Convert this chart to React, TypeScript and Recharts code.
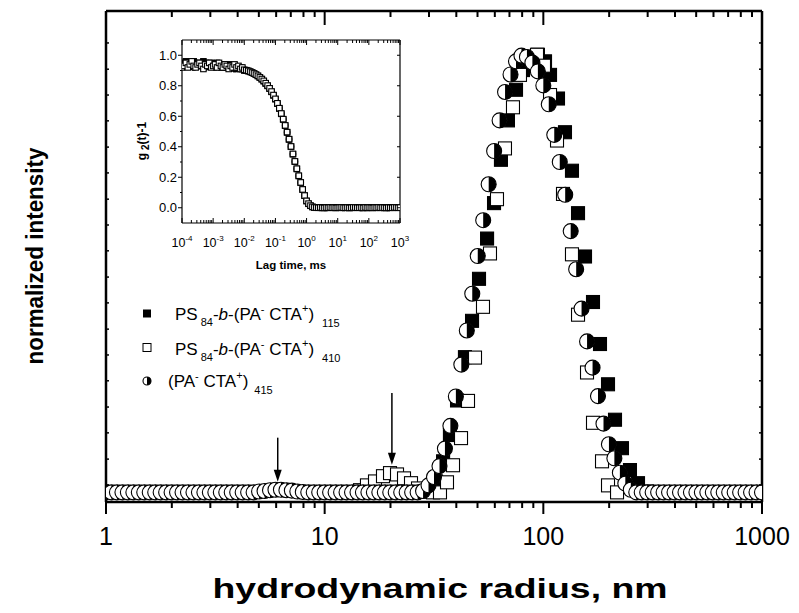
import React from "react";
import { ScatterChart, Scatter, XAxis, YAxis, ReferenceLine } from "recharts";

const FONT = "'Liberation Sans', Arial, Helvetica, sans-serif";

// ---------- main panel: size distributions ----------
// radius bins (nm) of the (PA- CTA+)415 distribution
const radiusGrid = [
  1, 1.059, 1.122, 1.189, 1.259, 1.334, 1.413, 1.496, 1.585, 1.679, 1.778, 1.884, 1.995, 2.113, 2.239, 2.371, 2.512, 2.661, 2.818, 2.985,
  3.162, 3.35, 3.548, 3.758, 3.981, 4.217, 4.467, 4.732, 5.012, 5.309, 5.623, 5.957, 6.31, 6.683, 7.079, 7.499, 7.943, 8.414, 8.913, 9.441,
  10, 10.59, 11.22, 11.89, 12.59, 13.34, 14.13, 14.96, 15.85, 16.79, 17.78, 18.84, 19.95, 21.13, 22.39, 23.71, 25.12, 26.61, 28.18, 29.85,
  31.62, 33.5, 35.48, 37.58, 39.81, 42.17, 44.67, 47.32, 50.12, 53.09, 56.23, 59.57, 63.1, 66.83, 70.79, 74.99, 79.43, 84.14, 89.13, 94.41,
  100, 105.9, 112.2, 118.9, 125.9, 133.4, 141.3, 149.6, 158.5, 167.9, 177.8, 188.4, 199.5, 211.3, 223.9, 237.1, 251.2, 266.1, 281.8, 298.5,
  316.2, 335, 354.8, 375.8, 398.1, 421.7, 446.7, 473.2, 501.2, 530.9, 562.3, 595.7, 631, 668.3, 707.9, 749.9, 794.3, 841.4, 891.3, 944.1,
  1000,
];
const halfIntensity = [
  0, 0, 0, 0, 0, 0, 0, 0, 0, 0, 0, 0, 0, 0, 0, 0, 0, 0, 0, 0,
  0, 0, 0, 0, 0, 0, 0, 0, 0.002, 0.003, 0.005, 0.006, 0.006, 0.005, 0.004, 0.002, 0.001, 0, 0, 0,
  0, 0, 0, 0, 0, 0, 0, 0, 0, 0, 0, 0, 0, 0, 0, 0, 0, 0, 0.003, 0.016,
  0.035, 0.06, 0.1, 0.152, 0.219, 0.292, 0.37, 0.454, 0.54, 0.622, 0.704, 0.78, 0.85, 0.915, 0.955, 0.985, 0.998, 0.995, 0.982, 0.962,
  0.93, 0.887, 0.817, 0.755, 0.68, 0.597, 0.51, 0.42, 0.345, 0.285, 0.22, 0.157, 0.11, 0.078, 0.045, 0.02, 0.006, 0, 0, 0,
  0, 0, 0, 0, 0, 0, 0, 0, 0, 0, 0, 0, 0, 0, 0, 0, 0, 0, 0, 0,
  0,
];

// PS84-b-(PA- CTA+)115
const filledRadius = [
  30.0, 32.3, 34.8, 37.4, 40.3, 43.8, 47.2, 50.8, 55.3, 59.5, 64.0, 68.9, 75.0, 80.7, 86.9, 94.5,
  101.8, 107.3, 116.7, 125.6, 135.2, 144.1, 155.1, 168.7, 181.6, 197.6, 212.7, 228.9, 249.0, 271.0, 298.0,
];
const filledIntensity = [
  0.002, 0.025, 0.071, 0.131, 0.21, 0.309, 0.392, 0.488, 0.58, 0.661, 0.76, 0.85, 0.92, 0.965, 0.99, 1.0,
  0.985, 0.954, 0.9, 0.823, 0.735, 0.638, 0.539, 0.435, 0.339, 0.247, 0.166, 0.101, 0.051, 0.021, 0.002,
];

// PS84-b-(PA- CTA+)410
const openRadius = [
  14.51, 15.61, 16.99, 18.48, 19.9, 21.42, 23.06, 24.82, 26.72, 28.76, 31.29, 33.68, 36.26, 38.63, 42.03, 45.24, 48.7, 52.97,
  57.02, 61.38, 66.77, 72.64, 78.2, 86.0, 93.55, 100.7, 107.3, 115.5, 123.0, 135.2, 144.1, 158.4, 168.7, 185.5, 197.6, 217.3,
];
const openIntensity = [
  0.005, 0.016, 0.025, 0.037, 0.044, 0.041, 0.032, 0.021, 0.009, 0.002, 0, 0, 0.023, 0.062, 0.124, 0.209, 0.308, 0.424,
  0.546, 0.67, 0.786, 0.88, 0.954, 0.995, 1.0, 0.975, 0.908, 0.804, 0.682, 0.544, 0.406, 0.274, 0.159, 0.071, 0.016, 0,
];

const xTicks = [1, 10, 100, 1000];
const xMinorTicks = [2, 3, 4, 5, 6, 7, 8, 9, 20, 30, 40, 50, 60, 70, 80, 90, 200, 300, 400, 500, 600, 700, 800, 900];
const yTicks = [0.017, 0.076, 0.136, 0.195, 0.255, 0.314, 0.373, 0.433, 0.492, 0.552, 0.611, 0.67, 0.73, 0.789, 0.849, 0.908, 0.967, 1.027];

// arrows marking the small populations
const arrowRadius = [6.1, 20.3];
const arrowFrom = [0.125, 0.227];
const arrowTo = [0.024, 0.063];

// ---------- inset: g2(t)-1 ----------
const lagTimes = [
  1e-4, 1.155e-4, 1.334e-4, 1.54e-4, 1.778e-4, 2.054e-4, 2.371e-4, 2.738e-4, 3.162e-4, 3.652e-4, 4.217e-4, 4.87e-4, 5.623e-4, 6.494e-4, 7.499e-4, 8.66e-4,
  1e-3, 1.155e-3, 1.334e-3, 1.54e-3, 1.778e-3, 2.054e-3, 2.371e-3, 2.738e-3, 3.162e-3, 3.652e-3, 4.217e-3, 4.87e-3, 5.623e-3, 6.494e-3, 7.499e-3, 8.66e-3,
  0.01, 0.01155, 0.01334, 0.0154, 0.01778, 0.02054, 0.02371, 0.02738, 0.03162, 0.03652, 0.04217, 0.0487, 0.05623, 0.06494, 0.07499, 0.0866,
  0.1, 0.1155, 0.1334, 0.154, 0.1778, 0.2054, 0.2371, 0.2738, 0.3162, 0.3652, 0.4217, 0.487, 0.5623, 0.6494, 0.7499, 0.866,
  1, 1.155, 1.334, 1.54, 1.778, 2.054, 2.371, 2.738, 3.162, 3.652, 4.217, 4.87, 5.623, 6.494, 7.499, 8.66,
  10, 11.55, 13.34, 15.4, 17.78, 20.54, 23.71, 27.38, 31.62, 36.52, 42.17, 48.7, 56.23, 64.94, 74.99, 86.6,
  100, 115.5, 133.4, 154, 177.8, 205.4, 237.1, 273.8, 316.2, 365.2, 421.7, 487, 562.3, 649.4, 749.9, 866,
  1000,
];
const g2Open = [
  0.92, 0.93, 0.95, 0.92, 0.94, 0.96, 0.93, 0.92, 0.94, 0.95, 0.93, 0.91, 0.94, 0.93, 0.95, 0.92,
  0.93, 0.94, 0.92, 0.95, 0.93, 0.92, 0.94, 0.93, 0.91, 0.93, 0.92, 0.94, 0.92, 0.93, 0.91, 0.92,
  0.905, 0.902, 0.898, 0.893, 0.887, 0.881, 0.873, 0.865, 0.855, 0.844, 0.832, 0.817, 0.801, 0.783, 0.762, 0.739,
  0.714, 0.685, 0.653, 0.618, 0.581, 0.54, 0.496, 0.45, 0.402, 0.353, 0.304, 0.256, 0.21, 0.166, 0.12, 0.08,
  0.045, 0.027, 0.014, 0.006, 0.002, 0.001, 0, 0.002, 0, -0.001, 0.001, 0, 0.002, 0, 0.001, -0.001,
  0, 0.001, 0.002, 0, 0, 0.001, -0.001, 0, 0.002, 0.001, 0, 0, 0.001, -0.001, 0.002, 0,
  0.001, 0, -0.001, 0.001, 0, 0.002, 0, 0.001, 0, -0.001, 0.001, 0, 0, 0.002, 0.001, 0,
  0.001,
];
const g2Filled = [
  0.95, 0.94, 0.96, 0.95, 0.93, 0.95, 0.96, 0.94, 0.95, 0.93, 0.94, 0.96, 0.95, 0.93, 0.94, 0.95,
  0.94, 0.93, 0.95, 0.94, 0.92, 0.94, 0.93, 0.92, 0.94, 0.93, 0.92, 0.93, 0.91, 0.92, 0.92, 0.91,
  0.9, 0.899, 0.896, 0.891, 0.886, 0.879, 0.872, 0.864, 0.854, 0.843, 0.83, 0.815, 0.799, 0.781, 0.76, 0.737,
  0.712, 0.683, 0.651, 0.616, 0.579, 0.538, 0.494, 0.448, 0.4, 0.351, 0.302, 0.254, 0.208, 0.164, 0.119, 0.079,
  0.044, 0.026, 0.013, 0.005, 0.001, 0, 0.001, 0, -0.001, 0.001, 0, 0.001, 0, 0.002, 0, 0,
  0.001, 0, 0, 0.001, 0.002, 0, -0.001, 0.001, 0, 0, 0.001, 0.002, 0, 0.001, 0, -0.001,
  0, 0.001, 0.002, 0, 0.001, 0, 0, 0.001, -0.001, 0, 0.002, 0.001, 0, 0, 0.001, 0,
  0,
];
const g2Half = [
  0.94, 0.93, 0.94, 0.95, 0.93, 0.94, 0.92, 0.95, 0.94, 0.93, 0.95, 0.94, 0.92, 0.94, 0.93, 0.94,
  0.93, 0.92, 0.94, 0.93, 0.94, 0.92, 0.93, 0.92, 0.93, 0.92, 0.93, 0.91, 0.92, 0.92, 0.91, 0.91,
  0.903, 0.9, 0.897, 0.892, 0.886, 0.88, 0.872, 0.864, 0.855, 0.844, 0.831, 0.816, 0.8, 0.782, 0.761, 0.738,
  0.713, 0.684, 0.652, 0.617, 0.58, 0.539, 0.495, 0.449, 0.401, 0.352, 0.303, 0.255, 0.209, 0.165, 0.12, 0.08,
  0.045, 0.027, 0.014, 0.006, 0.002, 0, 0.001, 0, 0.001, 0, -0.001, 0.001, 0, 0.001, 0, 0.002,
  0, 0.001, 0, -0.001, 0.001, 0, 0.002, 0, 0.001, 0, 0, 0.001, -0.001, 0, 0.002, 0,
  0.001, 0, 0, 0.001, 0, 0.002, 0.001, 0, 0, 0.001, -0.001, 0, 0.001, 0, 0, 0.001,
  0,
];
const insetXTicks = [1e-4, 1e-3, 1e-2, 1e-1, 1, 10, 100, 1000];
const insetXExponents = ["-4", "-3", "-2", "-1", "0", "1", "2", "3"];
const insetXMinor = insetXTicks.slice(0, -1).flatMap((d) => [2, 3, 4, 5, 6, 7, 8, 9].map((m) => m * d));
const insetYTicks = [0, 0.2, 0.4, 0.6, 0.8, 1.0];
const insetYMinor = [0.1, 0.3, 0.5, 0.7, 0.9];

const toPoints = (xs: number[], ys: number[]) => xs.map((x, i) => ({ x, y: ys[i] }));

// ---------- marker shapes ----------
const Square = ({ cx, cy, size, filled }: any) => (
  <rect x={cx - size / 2} y={cy - size / 2} width={size} height={size} fill={filled ? "#000" : "#fff"} stroke="#000" strokeWidth={1.1} />
);
const HalfDot = ({ cx, cy, r }: any) => (
  <g>
    <circle cx={cx} cy={cy} r={r} fill="#fff" stroke="#000" strokeWidth={1.1} />
    <path d={`M${cx},${cy - r} A${r},${r} 0 0 1 ${cx},${cy + r} Z`} fill="#000" />
  </g>
);

const Arrow = (p: any) => {
  const { x1, y1, x2, y2 } = p;
  return (
    <g>
      <line x1={x1} y1={y1} x2={x2} y2={y2 - 10} stroke="#000" strokeWidth={1.5} />
      <path d={`M${x2 - 4},${y2 - 12} L${x2 + 4},${y2 - 12} L${x2},${y2} Z`} fill="#000" />
    </g>
  );
};

// ---------- tick renderers (line + label drawn here) ----------
const isMajor = (v: number, majors: number[]) => majors.some((m) => Math.abs(m - v) / m < 1e-6);

const mainBottomTick = (p: any) => {
  const v = p.payload.value;
  const major = isMajor(v, xTicks);
  return (
    <g>
      <line x1={p.x} x2={p.x} y1={p.y} y2={p.y + (major ? 12 : 6)} stroke="#000" strokeWidth={2} />
      {major && (
        <text x={p.x} y={p.y + 25} dy="0.72em" textAnchor="middle" fontSize={25} fontFamily={FONT} fill="#000">
          {String(v)}
        </text>
      )}
    </g>
  );
};
const mainTopTick = (p: any) => {
  const major = isMajor(p.payload.value, xTicks);
  return <line x1={p.x} x2={p.x} y1={p.y} y2={p.y + (major ? 14 : 6)} stroke="#000" strokeWidth={2} />;
};
const mainLeftTick = (p: any) => <line x1={p.x} x2={p.x + 3} y1={p.y} y2={p.y} stroke="#000" strokeWidth={1.5} />;
const mainRightTick = (p: any) => <line x1={p.x} x2={p.x - 3} y1={p.y} y2={p.y} stroke="#000" strokeWidth={1.5} />;

const insetBottomTick = (p: any) => {
  const v = p.payload.value;
  const idx = insetXTicks.findIndex((m) => Math.abs(m - v) / m < 1e-6);
  return (
    <g>
      <line x1={p.x} x2={p.x} y1={p.y} y2={p.y - (idx >= 0 ? 5 : 3)} stroke="#000" strokeWidth={1} />
      {idx >= 0 && (
        <text x={p.x} y={p.y + 24} textAnchor="middle" fontSize={12.5} fontFamily={FONT} fill="#000">
          10<tspan dy={-6} fontSize={8}>{insetXExponents[idx]}</tspan>
        </text>
      )}
    </g>
  );
};
const insetTopTick = (p: any) => {
  const major = isMajor(p.payload.value, insetXTicks);
  return <line x1={p.x} x2={p.x} y1={p.y} y2={p.y + (major ? 5 : 3)} stroke="#000" strokeWidth={1} />;
};
const insetLeftTick = (p: any) => {
  const v = p.payload.value;
  const major = insetYTicks.some((m) => Math.abs(m - v) < 1e-6);
  return (
    <g>
      <line x1={p.x} x2={p.x - (major ? 4 : 2)} y1={p.y} y2={p.y} stroke="#000" strokeWidth={1} />
      {major && (
        <text x={p.x - 5} y={p.y} dy="0.36em" textAnchor="end" fontSize={13} fontFamily={FONT} fill="#000">
          {v.toFixed(1)}
        </text>
      )}
    </g>
  );
};
const insetRightTick = (p: any) => <line x1={p.x} x2={p.x - 3} y1={p.y} y2={p.y} stroke="#000" strokeWidth={1} />;

const frameLine = { stroke: "#000", strokeWidth: 2.5 };
const insetFrame = { stroke: "#000", strokeWidth: 1.2 };

const filledData = toPoints(filledRadius, filledIntensity);
const openData = toPoints(openRadius, openIntensity);
const halfData = toPoints(radiusGrid, halfIntensity);

const insetOpen = toPoints(lagTimes, g2Open);
const insetFilled = toPoints(lagTimes, g2Filled);
const insetHalf = toPoints(lagTimes, g2Half);

const mainXAll = [...xTicks, ...xMinorTicks].sort((a, b) => a - b);
const insetXAll = [...insetXTicks, ...insetXMinor].sort((a, b) => a - b);
const insetYAll = [...insetYTicks, ...insetYMinor].sort((a, b) => a - b);

function PSLabel({ y, n }: { y: number; n: string }) {
  return (
    <text x={175} y={y} fontSize={17} fontFamily={FONT} fill="#000">
      PS
      <tspan dx={3} dy={6} fontSize={11}>84</tspan>
      <tspan dy={-6}>-</tspan>
      <tspan fontStyle="italic">b</tspan>
      <tspan>-(PA</tspan>
      <tspan dy={-7} fontSize={11}>-</tspan>
      <tspan dy={7}> CTA</tspan>
      <tspan dy={-8} fontSize={11}>+</tspan>
      <tspan dy={8}>)</tspan>
      <tspan dx={8} dy={7} fontSize={11}>{n}</tspan>
    </text>
  );
}

export default function App() {
  return (
    <div style={{ position: "absolute", left: 0, top: 0, width: 799, height: 613, background: "#fff" }}>
      <ScatterChart width={799} height={613} margin={{ top: 10, right: 36, bottom: 110, left: 105 }}>
        <XAxis
          xAxisId="b"
          dataKey="x"
          type="number"
          scale="log"
          domain={[1, 1000]}
          allowDataOverflow
          ticks={mainXAll}
          interval={0}
          height={1}
          tickSize={0}
          tickMargin={0}
          tickLine={false}
          axisLine={frameLine}
          tick={mainBottomTick}
        />
        <XAxis
          xAxisId="t"
          orientation="top"
          dataKey="x"
          type="number"
          scale="log"
          domain={[1, 1000]}
          allowDataOverflow
          ticks={mainXAll}
          interval={0}
          height={1}
          tickSize={0}
          tickMargin={0}
          tickLine={false}
          axisLine={frameLine}
          tick={mainTopTick}
        />
        <YAxis
          yAxisId="l"
          dataKey="y"
          type="number"
          domain={[-0.022, 1.1]}
          allowDataOverflow
          ticks={yTicks}
          interval={0}
          width={1}
          tickSize={0}
          tickMargin={0}
          tickLine={false}
          axisLine={frameLine}
          tick={mainLeftTick}
        />
        <YAxis
          yAxisId="r"
          orientation="right"
          dataKey="y"
          type="number"
          domain={[-0.022, 1.1]}
          allowDataOverflow
          ticks={yTicks}
          interval={0}
          width={1}
          tickSize={0}
          tickMargin={0}
          tickLine={false}
          axisLine={frameLine}
          tick={mainRightTick}
        />
        <Scatter xAxisId="b" yAxisId="l" data={filledData} isAnimationActive={false}
          shape={(p: any) => <Square cx={p.cx} cy={p.cy} size={13} filled />} />
        <Scatter xAxisId="b" yAxisId="l" data={openData} isAnimationActive={false}
          shape={(p: any) => <Square cx={p.cx} cy={p.cy} size={13} />} />
        <Scatter xAxisId="b" yAxisId="l" data={halfData} isAnimationActive={false}
          shape={(p: any) => <HalfDot cx={p.cx} cy={p.cy} r={7.5} />} />
        {arrowRadius.map((r, i) => (
          <ReferenceLine
            key={i}
            xAxisId="b"
            yAxisId="l"
            segment={[{ x: r, y: arrowFrom[i] }, { x: r, y: arrowTo[i] }]}
            shape={Arrow}
          />
        ))}
      </ScatterChart>

      <div style={{ position: "absolute", left: 120, top: 30 }}>
        <ScatterChart width={300} height={250} margin={{ top: 9, right: 19, bottom: 56, left: 61 }}>
          <XAxis xAxisId="b" dataKey="x" type="number" scale="log" domain={[1e-4, 1000]} allowDataOverflow
            ticks={insetXAll} interval={0} height={1} tickSize={0} tickMargin={0} tickLine={false}
            axisLine={insetFrame} tick={insetBottomTick} />
          <XAxis xAxisId="t" orientation="top" dataKey="x" type="number" scale="log" domain={[1e-4, 1000]} allowDataOverflow
            ticks={insetXAll} interval={0} height={1} tickSize={0} tickMargin={0} tickLine={false}
            axisLine={insetFrame} tick={insetTopTick} />
          <YAxis yAxisId="l" dataKey="y" type="number" domain={[-0.1, 1.1]} allowDataOverflow
            ticks={insetYAll} interval={0} width={1} tickSize={0} tickMargin={0} tickLine={false}
            axisLine={insetFrame} tick={insetLeftTick} />
          <YAxis yAxisId="r" orientation="right" dataKey="y" type="number" domain={[-0.1, 1.1]} allowDataOverflow
            ticks={insetYTicks} interval={0} width={1} tickSize={0} tickMargin={0} tickLine={false}
            axisLine={insetFrame} tick={insetRightTick} />
          <Scatter xAxisId="b" yAxisId="l" data={insetHalf} isAnimationActive={false}
            shape={(p: any) => <HalfDot cx={p.cx} cy={p.cy} r={2.8} />} />
          <Scatter xAxisId="b" yAxisId="l" data={insetFilled} isAnimationActive={false}
            shape={(p: any) => <Square cx={p.cx} cy={p.cy} size={5.5} filled />} />
          <Scatter xAxisId="b" yAxisId="l" data={insetOpen} isAnimationActive={false}
            shape={(p: any) => <Square cx={p.cx} cy={p.cy} size={5.5} />} />
        </ScatterChart>
      </div>

      <svg width={799} height={613} style={{ position: "absolute", left: 0, top: 0, pointerEvents: "none" }}>
        {/* axis titles */}
        <text x={440} y={598} textAnchor="middle" fontSize={28} fontWeight="bold" fontFamily={FONT}
          textLength={455} lengthAdjust="spacingAndGlyphs">hydrodynamic radius, nm</text>
        <text transform="translate(43,256) rotate(-90)" textAnchor="middle" fontSize={23} fontWeight="bold" fontFamily={FONT}
          textLength={217} lengthAdjust="spacingAndGlyphs">normalized intensity</text>
        <text x={291} y={269} textAnchor="middle" fontSize={11.5} fontWeight="bold" fontFamily={FONT}>Lag time, ms</text>
        <text transform="translate(146,141) rotate(-90)" textAnchor="middle" fontSize={12} fontWeight="bold" fontFamily={FONT}>
          g<tspan fontSize={10} dy={3}> 2</tspan><tspan dy={-3}>(t)-1</tspan>
        </text>

        {/* legend */}
        <rect x={143} y={309.5} width={8} height={8} fill="#000" />
        <PSLabel y={320} n="115" />
        <rect x={143} y={343.5} width={8} height={8} fill="#fff" stroke="#000" strokeWidth={1} />
        <PSLabel y={355} n="410" />
        <HalfDot cx={147} cy={381} r={4} />
        <text x={168} y={387} fontSize={17} fontFamily={FONT} fill="#000">
          (PA
          <tspan dy={-7} fontSize={11}>-</tspan>
          <tspan dy={7}> CTA</tspan>
          <tspan dy={-8} fontSize={11}>+</tspan>
          <tspan dy={8}>)</tspan>
          <tspan dx={6} dy={7} fontSize={11}>415</tspan>
        </text>
      </svg>
    </div>
  );
}
